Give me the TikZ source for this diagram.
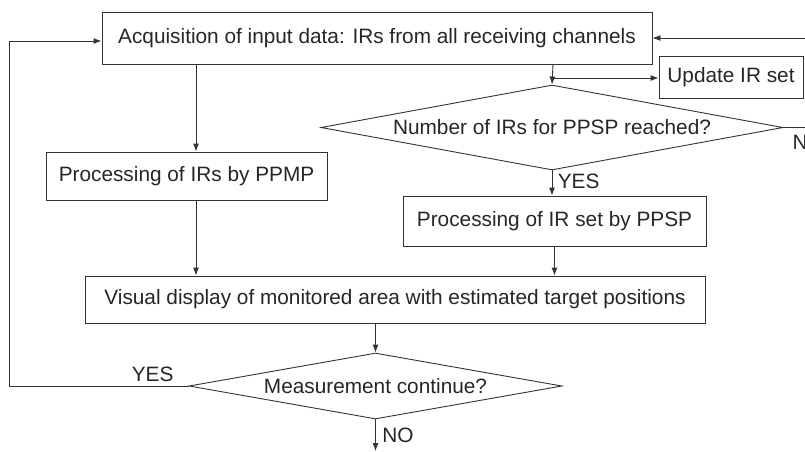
\documentclass[tikz,border=0pt]{standalone}
\usepackage{fontspec}
\setmainfont{Liberation Sans}
\usetikzlibrary{positioning,shapes.geometric,arrows.meta}

\begin{document}
\begin{tikzpicture}[x=1pt,y=-1pt,
    font=\fontsize{20.8}{24}\selectfont,
    every node/.style={text=black!85},
    flowbox/.style={rectangle,draw=black!80,line width=0.9pt,inner sep=0pt},
    flowtest/.style={diamond,draw=black!80,line width=0.9pt,inner sep=0pt},
    flowline/.style={draw=black!80,line width=0.9pt},
    flowarrow/.style={flowline,-{Latex[length=8pt,width=6pt]}}]
    \useasboundingbox (0,0) rectangle (805,451);

    % boxes
    \node[flowbox,minimum width=550pt,minimum height=52pt] (acq) at (377,38) {Acquisition of input data: IRs from all receiving channels};
    \node[flowbox,minimum width=281pt,minimum height=48pt] (ppmp) at (186.5,176) {Processing of IRs by PPMP};
    \node[flowbox,minimum width=144pt,minimum height=42pt] (upd) at (731,77) {Update IR set};
    \node[flowtest,aspect=5.44,minimum width=462pt,minimum height=85pt] (num) at (552,127.5) {Number of IRs for PPSP reached?};
    \node[flowbox,minimum width=303pt,minimum height=50pt] (ppsp) at (554.5,221) {Processing of IR set by PPSP};
    \node[flowbox,minimum width=620pt,minimum height=47pt] (disp) at (395,299.5) {Visual display of monitored area with estimated target positions\hspace{20pt}};
    \node[flowtest,aspect=5.65,minimum width=373pt,minimum height=66pt] (cont) at (375.5,386) {Measurement continue?};

    % helper points
    \coordinate (lcol) at (196,0);
    \coordinate (split) at (553,78);
    \coordinate (loopl) at (9,0);
    \coordinate (loopr) at (830,0);
    \coordinate (stop) at (375.5,451);

    % connectors
    \draw[flowarrow] (acq.south -| lcol) -- (ppmp.north -| lcol);
    \draw[flowarrow] (ppmp.south -| lcol) -- (disp.north -| lcol);
    \draw[flowarrow] (acq.south -| split) -- (num.north);
    \draw[flowarrow] (split) -- (upd.west |- split);
    \draw[flowarrow] (num.south) -- (ppsp.north -| num.south)
        node[pos=0.45,right=2pt] {YES};
    \draw[flowarrow] (ppsp.south) -- (disp.north -| ppsp.south);
    \draw[flowarrow] (disp.south -| cont.north) -- (cont.north);
    \draw[flowarrow] (cont.south) -- (stop)
        node[pos=0.5,right=3pt] {NO};
    \draw[flowarrow] (cont.west) -- (cont.west -| loopl)
        node[pos=0.2,above=1pt] {YES} |- ([yshift=-3pt]acq.west);
    \draw[flowarrow] (num.east) -- (num.east -| loopr) |- (acq.east);
    \node[anchor=north west,inner sep=0pt] (numno) at ([xshift=9pt,yshift=-7pt]num.east) {NO};
\end{tikzpicture}
\end{document}
